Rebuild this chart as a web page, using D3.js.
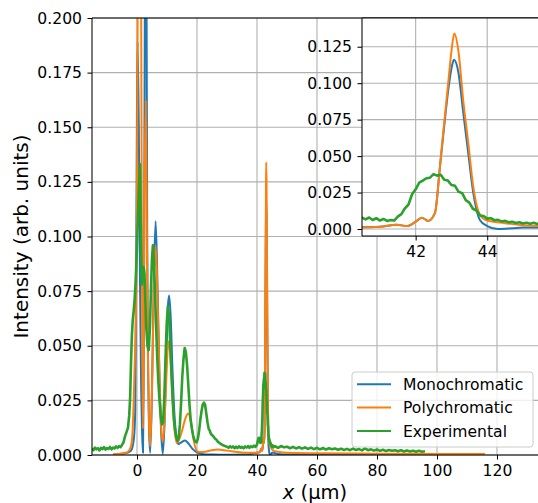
<!DOCTYPE html>
<html>
<head>
<meta charset="utf-8">
<script src="https://cdn.jsdelivr.net/npm/d3@7"></script>
<style>
body { margin: 0; background: #fff; }
text { font-family: "DejaVu Sans", sans-serif; }
</style>
</head>
<body>
<svg id="chart" width="538" height="503"></svg>
<script>
// values ([x in um, intensity])
var monoPts = [[-8,0.0002],[-4,0.0008],[-2,0.002],[-1,0.008],[-0.6,0.02],[-0.3,0.08],[0,0.16],[0.2,0.189],[0.6,0.15],[1.0,0.08],
  [1.4,0.03],[1.7,0.01],[2.0,0.001],[2.2,0.03],[2.4,0.1],[2.6,0.2],[2.9,0.24],[3.2,0.2],[3.4,0.1],[3.7,0.04],
  [4.0,0.012],[4.4,0.001],[5.0,0.03],[5.6,0.08],[6.2,0.107],[6.8,0.08],[7.5,0.035],[8.0,0.012],[8.6,0.0005],[9.2,0.015],
  [9.8,0.045],[10.3,0.068],[10.7,0.073],[11.2,0.064],[11.8,0.04],[12.5,0.018],[13.2,0.008],[13.8,0.005],[14.8,0.0058],[16.0,0.0066],
  [17.0,0.0055],[18.5,0.0028],[20,0.0012],[22,0.0004],[25,0.0002],[30,0.0001],[35,0.0002],[38,0.0005],[40,0.001],[41,0.0015],
  [41.47,0.003],[41.75,0.002],[42.0,0.005],[42.17,0.0078],[42.35,0.0055],[42.54,0.011],[42.68,0.043],[42.77,0.064],[42.91,0.095],[43.0,0.11],
  [43.07,0.116],[43.19,0.108],[43.33,0.08],[43.47,0.052],[43.61,0.025],[43.8,0.006],[44.0,0.002],[44.3,0.0],[44.7,0.0005],[45.0,0.001],
  [45.5,0.001],[47,0.0005],[50,0.0002],[60,0.0001],[80,0.0001],[100,0.0001],[116,0.0001]];

var polyPts = [[-8,0.0002],[-4,0.001],[-3,0.0015],[-2,0.004],[-1.5,0.01],[-1.1,0.025],[-0.6,0.05],[-0.2,0.08],[0,0.12],[0.2,0.2],
  [0.8,0.3],[1.4,0.2],[1.6,0.1],[1.8,0.04],[2.0,0.012],[2.2,0.04],[2.4,0.1],[2.9,0.162],[3.3,0.1],[3.6,0.05],
  [4.0,0.015],[4.4,0.004],[5.0,0.03],[5.6,0.075],[6.2,0.096],[6.8,0.075],[7.5,0.035],[8.0,0.014],[8.6,0.006],[9.2,0.016],
  [9.8,0.036],[10.3,0.05],[10.6,0.052],[11.1,0.046],[11.7,0.03],[12.4,0.014],[13.2,0.0055],[13.9,0.0065],[15.0,0.011],[16.2,0.017],
  [17.1,0.019],[18.0,0.015],[19.0,0.006],[20.3,0.0015],[22,0.0014],[25,0.0022],[27,0.0025],[30,0.002],[35,0.0012],[38,0.001],
  [40.5,0.001],[41.0,0.0015],[41.47,0.003],[41.75,0.002],[42.0,0.005],[42.17,0.0078],[42.35,0.0055],[42.54,0.011],[42.68,0.043],[42.77,0.066],
  [42.91,0.1],[43.0,0.122],[43.08,0.134],[43.19,0.123],[43.33,0.088],[43.47,0.059],[43.61,0.029],[43.8,0.0096],[43.98,0.006],[44.5,0.004],
  [45.0,0.0025],[45.5,0.002],[47,0.0015],[50,0.001],[60,0.0008],[80,0.0006],[100,0.0005],[116,0.0005]];

var expPts = [[-15,0.0030],[-14.5,0.0022],[-14,0.0034],[-13.5,0.0026],[-13,0.0031],[-12.5,0.0021],[-12,0.0033],[-11.5,0.0027],[-11,0.0036],[-10.5,0.0025],
  [-10,0.0032],[-9.5,0.0028],[-9,0.0037],[-8.5,0.0026],[-8,0.0034],[-7.5,0.0030],[-7,0.0039],[-6.5,0.0033],[-6,0.0041],[-5.5,0.0036],
  [-5,0.0046],[-4.5,0.0058],[-4,0.0085],[-3.5,0.0105],[-3,0.0125],[-2.6,0.018],[-2.3,0.026],[-2.0,0.042],[-1.7,0.055],[-1.4,0.062],
  [-1.1,0.066],[-0.8,0.071],[-0.5,0.078],[-0.2,0.088],[0.1,0.1],[0.4,0.112],[0.7,0.125],[1.0,0.133],[1.3,0.105],[1.6,0.078],
  [1.9,0.082],[2.2,0.086],[2.5,0.083],[2.8,0.07],[3.1,0.058],[3.5,0.05],[3.9,0.048],[4.3,0.058],[4.7,0.078],[5.0,0.09],
  [5.3,0.096],[5.6,0.09],[5.9,0.079],[6.3,0.062],[6.7,0.046],[7.1,0.034],[7.5,0.025],[7.9,0.018],[8.3,0.014],[8.7,0.015],
  [9.1,0.026],[9.5,0.044],[9.9,0.06],[10.3,0.068],[10.7,0.063],[11.1,0.05],[11.5,0.037],[11.9,0.025],[12.3,0.016],[12.7,0.011],
  [13.1,0.008],[13.5,0.0065],[13.9,0.008],[14.3,0.014],[14.7,0.024],[15.1,0.036],[15.5,0.044],[15.9,0.049],[16.3,0.047],[16.7,0.041],
  [17.1,0.032],[17.5,0.023],[17.9,0.016],[18.3,0.012],[18.7,0.009],[19.1,0.007],[19.5,0.006],[19.9,0.0058],[20.3,0.0075],[20.7,0.011],
  [21.1,0.016],[21.5,0.02],[21.9,0.023],[22.3,0.024],[22.7,0.023],[23.1,0.019],[23.5,0.015],[23.9,0.012],[24.3,0.011],[24.7,0.0095],
  [25.1,0.009],[25.5,0.0085],[26,0.0075],[26.5,0.007],[27,0.006],[27.5,0.0055],[28,0.005],[28.5,0.0046],[29,0.0043],[29.5,0.004],
  [30,0.0038],[30.5,0.0033],[31,0.0040],[31.5,0.0034],[32,0.0039],[32.5,0.0031],[33,0.0038],[33.5,0.0032],[34,0.0040],[34.5,0.0033],
  [35,0.0037],[35.5,0.0030],[36,0.0039],[36.5,0.0034],[37,0.0041],[37.5,0.0033],[38,0.0040],[38.5,0.0036],[39,0.0043],[39.5,0.0037],
  [40,0.0048],[40.5,0.0078],[40.6,0.0066],[40.7,0.0079],[40.8,0.0062],[40.9,0.0074],[41.0,0.0058],[41.1,0.0069],[41.2,0.0055],[41.3,0.0061],
  [41.4,0.0058],[41.5,0.0085],[41.6,0.0102],[41.7,0.0142],[41.8,0.0168],[41.9,0.0238],[42.0,0.0272],[42.1,0.0318],[42.2,0.0332],[42.3,0.0348],
  [42.4,0.0352],[42.5,0.0376],[42.6,0.0366],[42.7,0.0372],[42.8,0.0338],[42.9,0.0332],[43.0,0.0302],[43.1,0.0296],[43.2,0.0255],[43.3,0.0246],
  [43.4,0.0198],[43.5,0.0181],[43.6,0.0139],[43.7,0.0126],[43.8,0.0093],[43.9,0.0089],[44.0,0.0071],[44.1,0.0074],[44.2,0.0060],[44.3,0.0063],
  [44.4,0.0052],[44.5,0.0056],[44.6,0.0046],[44.7,0.0050],[44.8,0.0041],[44.9,0.0046],[45.0,0.0038],[45.1,0.0043],[45.2,0.0036],[45.3,0.0043],
  [45.4,0.0035],[45.5,0.0041],[46,0.0040],[47,0.0033],[48,0.0041],[49,0.0035],[50,0.0038],[51,0.0031],[52,0.0037],[53,0.0030],
  [54,0.0036],[55,0.0029],[56,0.0035],[57,0.0028],[58,0.0034],[59,0.0027],[60,0.0033],[61,0.0026],[62,0.0032],[63,0.0025],
  [64,0.0031],[65,0.0026],[66,0.0030],[67,0.0024],[68,0.0029],[69,0.0023],[70,0.0028],[71,0.0022],[72,0.0029],[73,0.0023],
  [74,0.0027],[75,0.0021],[76,0.0030],[77,0.0022],[78,0.0026],[79,0.0020],[80,0.0025],[81,0.0019],[82,0.0024],[83,0.0018],
  [84,0.0023],[85,0.0019],[86,0.0022],[87,0.0017],[88,0.0022],[89,0.0016],[90,0.0021],[91,0.0016],[92,0.0020],[93,0.0015],
  [94,0.0019],[95,0.0015],[96,0.0017]];

var seriesNames = ['Monochromatic', 'Polychromatic', 'Experimental'];
var seriesColors = ['#1f77b4', '#ff7f0e', '#2ca02c'];
var xTicks = [0, 20, 40, 60, 80, 100, 120];
var yTicks = [0, 0.025, 0.05, 0.075, 0.1, 0.125, 0.15, 0.175, 0.2];
var insetXTicks = [42, 44];
var insetYTicks = [0, 0.025, 0.05, 0.075, 0.1, 0.125];

var series = [monoPts, polyPts, expPts];
var svgctrl = d3.select('#chart');
var defs = svgctrl.append('defs');

var xMain = d3.scaleLinear().domain([-15, 133.67]).range([92, 538]);
var yMain = d3.scaleLinear().domain([0, 0.2]).range([455, 18]);
var xIn = d3.scaleLinear().domain([40.5, 45.42]).range([362, 538]);
var yIn = d3.scaleLinear().domain([-0.0048, 0.1447]).range([236, 18]);

function panel(xs, ys, xt, yt, clipId, white) {
  var x0 = xs.range()[0], x1 = xs.range()[1], y0 = ys.range()[0], y1 = ys.range()[1];
  var g = svgctrl.append('g');

  defs.append('clipPath').attr('id', clipId).append('rect')
    .attr('x', x0).attr('y', y1).attr('width', x1 - x0).attr('height', y0 - y1);

  if (white) {
    g.append('rect').attr('x', x0).attr('y', y1).attr('width', x1 - x0).attr('height', y0 - y1).attr('fill', '#fff');
  }

  // grid
  g.append('g').selectAll('line').data(xt).join('line')
    .attr('x1', d => xs(d)).attr('x2', d => xs(d)).attr('y1', y0).attr('y2', y1)
    .attr('stroke', '#b0b0b0').attr('stroke-width', 1.1);
  g.append('g').selectAll('line').data(yt).join('line')
    .attr('x1', x0).attr('x2', x1).attr('y1', d => ys(d)).attr('y2', d => ys(d))
    .attr('stroke', '#b0b0b0').attr('stroke-width', 1.1);

  // curves
  var lines = g.append('g').attr('clip-path', 'url(#' + clipId + ')');
  series.forEach(function(pts, i) {
    var ln = d3.line().x(d => xs(d[0])).y(d => ys(d[1]));
    if (i < 2) ln.curve(d3.curveMonotoneX);
    lines.append('path').attr('d', ln(pts)).attr('fill', 'none')
      .attr('stroke', seriesColors[i]).attr('stroke-width', i == 2 ? 2.6 : 2)
      .attr('stroke-linejoin', 'round');
  });

  // axes
  var ax = g.append('g').attr('transform', 'translate(0,' + y0 + ')')
    .call(d3.axisBottom(xs).tickValues(xt).tickSize(4.5).tickPadding(5.5).tickFormat(d3.format('d')));
  var ay = g.append('g').attr('transform', 'translate(' + x0 + ',0)')
    .call(d3.axisLeft(ys).tickValues(yt).tickSize(4.5).tickPadding(5.5).tickFormat(d3.format('.3f')));
  [ax, ay].forEach(function(a) {
    a.select('.domain').remove();
    a.attr('font-family', 'DejaVu Sans').attr('font-size', 15.6).attr('color', '#000');
    a.selectAll('line').attr('stroke-width', 1.05);
  });

  // spines
  g.append('line').attr('x1', x0).attr('x2', x0).attr('y1', y0).attr('y2', y1).attr('stroke', '#000').attr('stroke-width', 1.05);
  g.append('line').attr('x1', x0).attr('x2', x1).attr('y1', y0).attr('y2', y0).attr('stroke', '#000').attr('stroke-width', 1.05);
  g.append('line').attr('x1', x0).attr('x2', x1).attr('y1', y1).attr('y2', y1).attr('stroke', '#000').attr('stroke-width', 1.05);
  return g;
}

panel(xMain, yMain, xTicks, yTicks, 'clipMain', false);
panel(xIn, yIn, insetXTicks, insetYTicks, 'clipInset', true);

// axis labels
svgctrl.append('text').attr('transform', 'translate(28,236.5) rotate(-90)')
  .attr('text-anchor', 'middle').attr('font-size', 20).text('Intensity (arb. units)');
var xl = svgctrl.append('text').attr('x', 315).attr('y', 499).attr('text-anchor', 'middle').attr('font-size', 19.5);
xl.append('tspan').attr('font-style', 'italic').text('x');
xl.append('tspan').text(' (\u00b5m)');

// legend
var leg = svgctrl.append('g');
leg.append('rect').attr('x', 352).attr('y', 372).attr('width', 181).attr('height', 75).attr('rx', 3)
  .attr('fill', '#fff').attr('fill-opacity', 0.8).attr('stroke', '#cccccc').attr('stroke-width', 1);
seriesNames.forEach(function(name, i) {
  var yy = 384.3 + i * 23.3;
  leg.append('line').attr('x1', 357).attr('x2', 391).attr('y1', yy).attr('y2', yy)
    .attr('stroke', seriesColors[i]).attr('stroke-width', 2);
  leg.append('text').attr('x', 403).attr('y', yy).attr('dy', '0.36em').attr('font-size', 15.6).text(name);
});
</script>
</body>
</html>
